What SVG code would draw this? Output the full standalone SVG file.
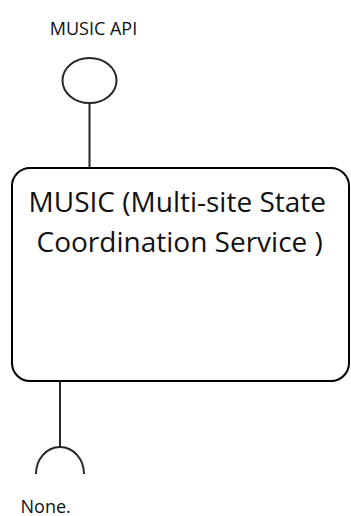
<svg xmlns="http://www.w3.org/2000/svg" width="351" height="516" viewBox="0 0 351 516">
<style>
.t{font-family:"Open Sans","Noto Sans",sans-serif;fill:#111}
.s{font-size:18px}
.b{font-size:28px}
.ln{fill:none;stroke:#262626;stroke-width:2}
</style>
<rect width="351" height="516" fill="#fff"/>
<g id="connectors">
<line class="ln" x1="89.5" y1="103" x2="89.5" y2="168"/>
<line class="ln" x1="60" y1="381" x2="60" y2="447"/>
</g>
<g id="music-api">
<ellipse class="ln" cx="89.5" cy="80.5" rx="27" ry="22.5"/>
<text class="t s" x="93.5" y="35" text-anchor="middle">MUSIC API</text>
</g>
<g id="music">
<rect x="12" y="168" width="337" height="213" rx="18" ry="18" fill="#fff" stroke="#000" stroke-width="2"/>
<text class="t b" x="177.3" y="211.7" text-anchor="middle">MUSIC (Multi-site State</text>
<text class="t b" x="179.7" y="251.7" text-anchor="middle">Coordination Service )</text>
</g>
<g id="none">
<path class="ln" d="M36,474 A24,27 0 0 1 84,474"/>
<text class="t s" x="20.5" y="512.5">None.</text>
</g>
</svg>
